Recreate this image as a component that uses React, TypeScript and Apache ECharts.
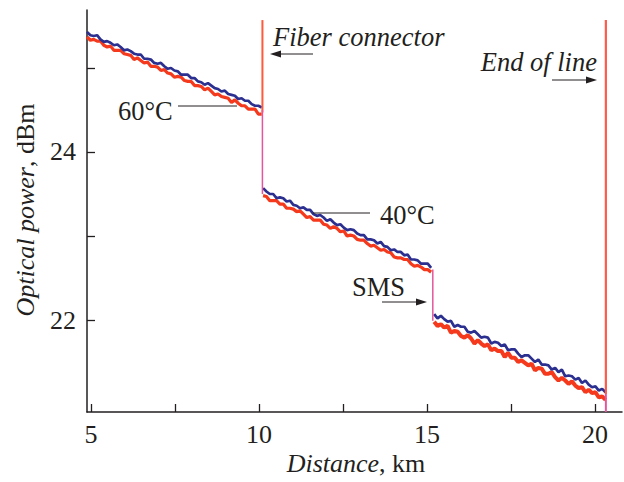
import React, { useEffect, useRef } from "react";
import * as echarts from "echarts";

// Sampling of the OTDR traces (km)
const SEG_START_KM = [4.88, 10.12, 15.21];
const STEP_KM = 0.1;

// Blue trace (dBm)
const blueSeg1 = [25.43, 25.39, 25.38, 25.39, 25.34, 25.31, 25.32, 25.3, 25.27, 25.28, 25.25, 25.21, 25.22, 25.2, 25.17, 25.16, 25.16, 25.11, 25.11, 25.1, 25.06, 25.05, 25.06, 25.02, 24.99, 25.0, 24.97, 24.96, 24.92, 24.92, 24.92, 24.88, 24.88, 24.84, 24.83, 24.8, 24.82, 24.79, 24.76, 24.75, 24.72, 24.73, 24.69, 24.68, 24.67, 24.63, 24.64, 24.61, 24.61, 24.57, 24.55, 24.55, 24.53];
const blueSeg2 = [23.57, 23.53, 23.5, 23.5, 23.45, 23.46, 23.45, 23.41, 23.42, 23.37, 23.36, 23.33, 23.34, 23.31, 23.31, 23.26, 23.24, 23.25, 23.22, 23.18, 23.2, 23.16, 23.13, 23.14, 23.1, 23.07, 23.08, 23.07, 23.03, 23.01, 23.01, 22.96, 22.96, 22.95, 22.91, 22.93, 22.88, 22.87, 22.83, 22.84, 22.81, 22.81, 22.77, 22.78, 22.72, 22.72, 22.71, 22.67, 22.67, 22.67, 22.62];
const blueSeg3 = [22.07, 22.02, 22.05, 22.01, 21.98, 21.99, 21.92, 21.94, 21.92, 21.92, 21.86, 21.85, 21.87, 21.83, 21.79, 21.8, 21.79, 21.72, 21.74, 21.73, 21.69, 21.71, 21.64, 21.65, 21.65, 21.6, 21.56, 21.58, 21.58, 21.54, 21.5, 21.53, 21.47, 21.47, 21.46, 21.41, 21.43, 21.38, 21.41, 21.33, 21.34, 21.33, 21.29, 21.31, 21.25, 21.28, 21.23, 21.2, 21.21, 21.16, 21.18, 21.14];

// Red trace (dBm)
const redSeg1 = [25.37, 25.33, 25.34, 25.32, 25.32, 25.27, 25.25, 25.26, 25.21, 25.21, 25.21, 25.17, 25.16, 25.15, 25.1, 25.12, 25.09, 25.06, 25.07, 25.02, 25.02, 25.01, 24.97, 24.98, 24.94, 24.93, 24.89, 24.9, 24.89, 24.85, 24.84, 24.84, 24.79, 24.79, 24.78, 24.74, 24.76, 24.72, 24.68, 24.69, 24.66, 24.65, 24.64, 24.59, 24.62, 24.58, 24.55, 24.55, 24.51, 24.51, 24.51, 24.45, 24.45];
const redSeg2 = [23.48, 23.47, 23.42, 23.42, 23.42, 23.38, 23.38, 23.33, 23.33, 23.32, 23.29, 23.3, 23.26, 23.22, 23.23, 23.19, 23.19, 23.19, 23.14, 23.13, 23.09, 23.11, 23.09, 23.05, 23.06, 23.0, 23.01, 23.0, 22.96, 22.95, 22.95, 22.91, 22.88, 22.89, 22.86, 22.83, 22.84, 22.81, 22.8, 22.75, 22.74, 22.74, 22.72, 22.72, 22.67, 22.64, 22.65, 22.63, 22.6, 22.6, 22.57];
const redSeg3 = [21.98, 21.93, 21.95, 21.91, 21.93, 21.85, 21.87, 21.86, 21.81, 21.79, 21.82, 21.78, 21.72, 21.76, 21.72, 21.69, 21.71, 21.64, 21.66, 21.63, 21.63, 21.56, 21.61, 21.55, 21.55, 21.5, 21.52, 21.49, 21.46, 21.48, 21.4, 21.43, 21.42, 21.36, 21.36, 21.38, 21.32, 21.28, 21.31, 21.28, 21.24, 21.27, 21.22, 21.19, 21.2, 21.14, 21.17, 21.13, 21.14, 21.08, 21.09, 21.05];

// Events: vertical traces [km, dBm]
const connectorSpike = [[10.1, 24.47], [10.1, 25.57]];
const connectorDrop = [[10.1, 24.5], [10.1, 23.5]];
const smsDrop = [[15.17, 22.6], [15.17, 21.99]];
const endSpike = [[20.32, 25.57], [20.32, 21.12]];
const endDrop = [[20.32, 21.12], [20.32, 20.905]];

const X_MIN = 4.88;
const X_MAX = 20.8;
const Y_MIN = 20.905;
const Y_MAX = 25.69;
const xTicks = [5, 7.5, 10, 12.5, 15, 17.5, 20];
const xLabels = [5, 10, 15, 20];
const yTicks = [22, 23, 24, 25];
const yLabels = [22, 24];

const BLUE = "#2b2f8f";
const RED = "#f5391c";
const PINK = "#e4569c";
const INK = "#231f20";
const FONT = '"Liberation Serif", "Times New Roman", serif';

function toPoints(start: number, values: number[]) {
  return values.map((v, i) => [Number((start + i * STEP_KM).toFixed(2)), v]);
}

export default function App() {
  const ref = useRef<HTMLDivElement>(null);
  useEffect(() => {
    if (!ref.current) return;
    const chart = echarts.init(ref.current, undefined, { renderer: "svg" });
    const lineSeries = (data: number[][], color: string, width: number, z = 2) => ({
      type: "line",
      data,
      showSymbol: false,
      symbol: "none",
      lineStyle: { color, width },
      z,
      silent: true,
    });
    const redSegs = [redSeg1, redSeg2, redSeg3];
    const blueSegs = [blueSeg1, blueSeg2, blueSeg3];
    const series: any[] = [];
    redSegs.forEach((s, i) => series.push(lineSeries(toPoints(SEG_START_KM[i], s), RED, i === 2 ? 4 : 3.2, 2)));
    blueSegs.forEach((s, i) => series.push(lineSeries(toPoints(SEG_START_KM[i], s), BLUE, 2.7, 3)));
    series.push(lineSeries(connectorSpike, "#ff5a3a", 2, 4));
    series.push(lineSeries(connectorDrop, PINK, 1.5, 4));
    series.push(lineSeries(smsDrop, PINK, 1.5, 4));
    series.push(lineSeries(endSpike, "#ff5a4a", 2.2, 4));
    series.push(lineSeries(endDrop, PINK, 2, 4));

    const text = (t: string, x: number, y: number, align: string, italic: boolean) => ({
      type: "text",
      x,
      y,
      style: {
        text: t,
        fill: INK,
        fontSize: 26.5,
        fontFamily: FONT,
        fontStyle: italic ? "italic" : "normal",
        align,
        verticalAlign: "middle",
      },
      z: 10,
    });
    const hline = (x1: number, x2: number, y: number) => ({
      type: "line",
      shape: { x1, y1: y, x2, y2: y },
      style: { stroke: INK, lineWidth: 1 },
      z: 10,
    });
    const arrowHead = (tip: number, y: number, dir: number) => ({
      type: "polygon",
      shape: { points: [[tip, y], [tip - dir * 11, y - 3.5], [tip - dir * 11, y + 3.5]] },
      style: { fill: INK },
      z: 10,
    });

    chart.setOption({
      animation: false,
      grid: { left: 87, right: 2, top: 10, bottom: 70 },
      xAxis: {
        type: "value",
        min: X_MIN,
        max: X_MAX,
        axisLine: { show: true, lineStyle: { color: INK, width: 1.5 } },
        axisTick: { show: true, inside: true, length: 8, customValues: xTicks, lineStyle: { color: INK, width: 1.3 } },
        axisLabel: { customValues: xLabels, fontSize: 26, fontFamily: FONT, color: INK, margin: 9 },
        splitLine: { show: false },
      },
      yAxis: {
        type: "value",
        min: Y_MIN,
        max: Y_MAX,
        axisLine: { show: true, lineStyle: { color: INK, width: 1.5 } },
        axisTick: { show: true, inside: true, length: 8, customValues: yTicks, lineStyle: { color: INK, width: 1.3 } },
        axisLabel: { customValues: yLabels, fontSize: 26, fontFamily: FONT, color: INK, margin: 11 },
        splitLine: { show: false },
      },
      series,
      graphic: [
        text("Fiber connector", 273, 37, "left", true),
        hline(278, 313, 54),
        arrowHead(270, 54, -1),
        text("End of line", 597, 62, "right", true),
        hline(552, 588, 80),
        arrowHead(597, 80, 1),
        text("60°C", 118, 111, "left", false),
        hline(178, 237, 106),
        text("40°C", 380, 215, "left", false),
        hline(313, 370, 213),
        text("SMS", 352, 287, "left", false),
        hline(382, 418, 302),
        arrowHead(427, 302, 1),
        {
          type: "text",
          x: 356,
          y: 463,
          style: {
            text: "{i|Distance}, km",
            fill: INK,
            fontSize: 26,
            fontFamily: FONT,
            align: "center",
            verticalAlign: "middle",
            rich: { i: { fontStyle: "italic", fontSize: 26, fontFamily: FONT, fill: INK } },
          },
        },
        {
          type: "text",
          x: 25,
          y: 210,
          rotation: Math.PI / 2,
          style: {
            text: "{i|Optical power}, dBm",
            fill: INK,
            fontSize: 26,
            fontFamily: FONT,
            align: "center",
            verticalAlign: "middle",
            rich: { i: { fontStyle: "italic", fontSize: 26, fontFamily: FONT, fill: INK } },
          },
        },
      ],
    });
    return () => chart.dispose();
  }, []);
  return (
    <div
      ref={ref}
      style={{ position: "fixed", left: 0, top: 0, width: 624, height: 482, background: "#fff" }}
    />
  );
}
